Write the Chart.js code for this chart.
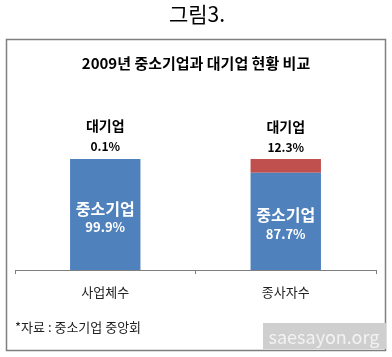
<!DOCTYPE html>
<html><head><meta charset="utf-8">
<script src="https://cdn.jsdelivr.net/npm/chart.js@4"></script>
<style>html,body{margin:0;padding:0;background:#fff;}canvas{display:block;}</style>
</head><body>
<canvas id="c" width="392" height="357"></canvas>
<script>
const categories = ['사업체수', '종사자수'];
const smeValues = [99.9, 87.7];
const largeValues = [0.1, 12.3];
const smeLabel = '중소기업';
const largeLabel = '대기업';
const figureTitle = '그림3.';
const chartTitle = '2009년 중소기업과 대기업 현황 비교';
const footnote = '*자료 : 중소기업 중앙회';
const watermark = 'saesayon.org';

const FONT = '"Noto Sans CJK KR", "Noto Sans", sans-serif';

const decor = {
  id: 'decor',
  beforeDraw(chart) {
    const ctx = chart.ctx;
    ctx.save();
    ctx.fillStyle = '#fff';
    ctx.fillRect(0, 0, chart.width, chart.height);
    ctx.strokeStyle = '#7f7f7f';
    ctx.lineWidth = 1.5;
    ctx.strokeRect(6.5, 39.5, 379, 311);
    ctx.fillStyle = '#000';
    ctx.textAlign = 'center';
    ctx.textBaseline = 'middle';
    ctx.font = '21px ' + FONT;
    ctx.fillText(figureTitle, 197, 14);
    ctx.font = 'bold 15px ' + FONT;
    ctx.fillText(chartTitle, 196, 63);
    ctx.textAlign = 'left';
    ctx.font = '13px ' + FONT;
    ctx.fillStyle = '#222';
    ctx.fillText(footnote, 15, 327);
    ctx.restore();
  },
  afterDraw(chart) {
    const ctx = chart.ctx;
    ctx.save();
    const m0 = chart.getDatasetMeta(0), m1 = chart.getDatasetMeta(1);
    ctx.textAlign = 'center';
    ctx.textBaseline = 'middle';
    m1.data.forEach((bar, i) => {
      const top = bar.y;
      ctx.fillStyle = '#000';
      ctx.font = 'bold 14px ' + FONT;
      ctx.fillText(largeLabel, bar.x, top - 32);
      ctx.font = 'bold 12px ' + FONT;
      ctx.fillText(largeValues[i].toFixed(1) + '%', bar.x, top - 12);
    });
    m0.data.forEach((bar, i) => {
      const mid = (bar.y + bar.base) / 2 + 3;
      ctx.fillStyle = '#fff';
      ctx.font = 'bold 16px ' + FONT;
      ctx.fillText(smeLabel, bar.x, mid - 9);
      ctx.font = 'bold 13px ' + FONT;
      ctx.fillText(smeValues[i].toFixed(1) + '%', bar.x, mid + 10);
    });
    ctx.fillStyle = '#cfcfcf';
    ctx.fillRect(263, 323, 123, 26);
    ctx.fillStyle = '#f2f2f2';
    ctx.font = '18px ' + FONT;
    ctx.fillText(watermark, 324, 337);
    ctx.restore();
  }
};

new Chart(document.getElementById('c'), {
  type: 'bar',
  data: {
    labels: categories,
    datasets: [
      { label: smeLabel, data: smeValues, backgroundColor: '#4f81bd', barPercentage: 0.39, categoryPercentage: 1 },
      { label: largeLabel, data: largeValues, backgroundColor: '#c0504d', barPercentage: 0.39, categoryPercentage: 1, minBarLength: 1 }
    ]
  },
  options: {
    responsive: false,
    animation: false,
    devicePixelRatio: 1,
    layout: { padding: { top: 159, left: 15, right: 16, bottom: 0 } },
    plugins: { legend: { display: false }, tooltip: { enabled: false }, title: { display: false } },
    scales: {
      x: {
        stacked: true,
        afterFit(scale) { scale.height = 87; },
        grid: { drawOnChartArea: false, drawTicks: true, tickLength: 4, color: '#7f7f7f', offset: true },
        border: { display: true, color: '#7f7f7f', width: 1 },
        ticks: { color: '#222', font: { family: FONT, size: 13 }, padding: 10 }
      },
      y: {
        stacked: true, display: false, min: 0, max: 100
      }
    }
  },
  plugins: [decor]
});
</script>
</body></html>
